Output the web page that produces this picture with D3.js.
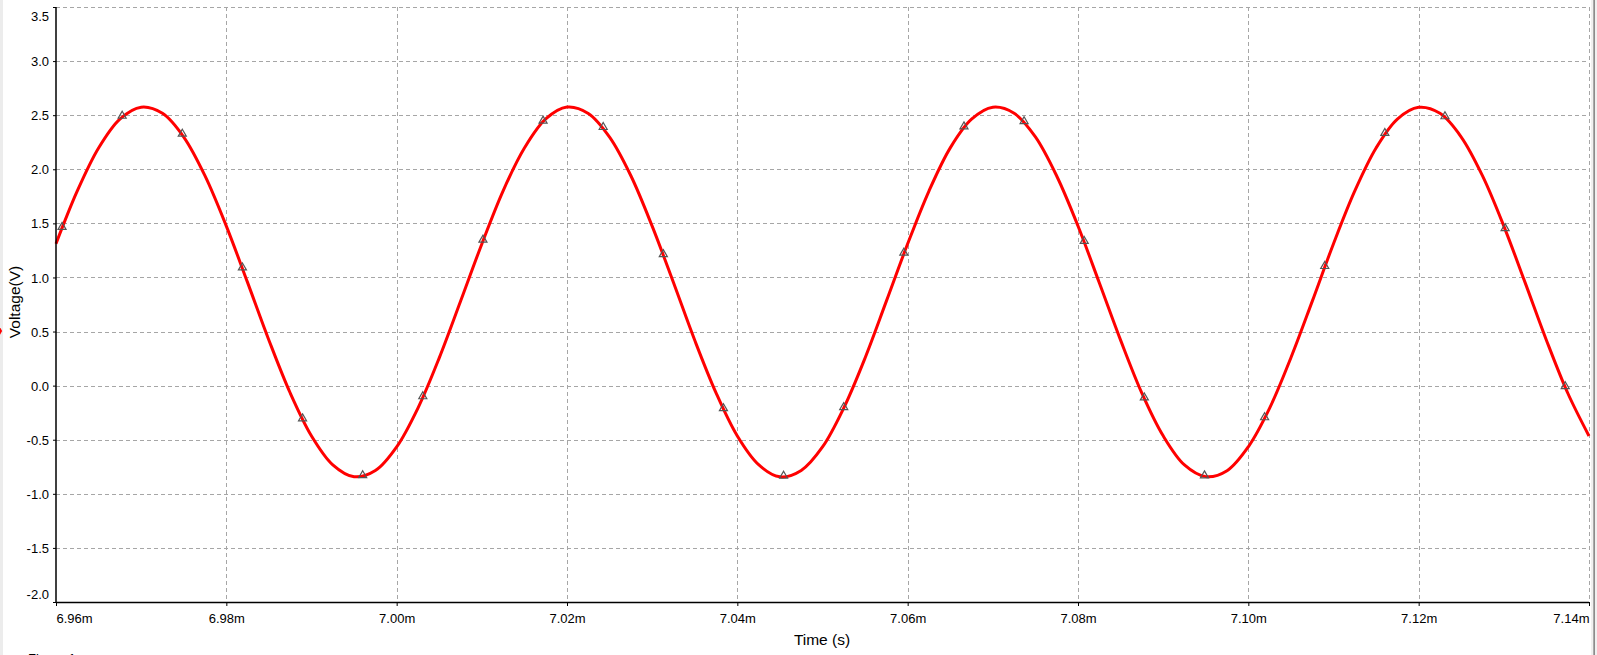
<!DOCTYPE html>
<html>
<head>
<meta charset="utf-8">
<script src="https://cdn.jsdelivr.net/npm/d3@7"></script>
<style>
  html, body { margin: 0; padding: 0; background: #ffffff; }
  svg { display: block; }
  text { font-family: "Liberation Sans", Arial, sans-serif; fill: #000; }
</style>
</head>
<body>
<svg id="chart" width="1597" height="655"></svg>
<script>
// ---- data ----
const times = [6.9600,6.9625,6.9650,6.9675,6.9700,6.9725,6.9750,6.9775,6.9800,6.9825,6.9850,6.9875,6.9900,6.9925,6.9950,6.9975,
  7.0000,7.0025,7.0050,7.0075,7.0100,7.0125,7.0150,7.0175,7.0200,7.0225,7.0250,7.0275,7.0300,7.0325,7.0350,7.0375,
  7.0400,7.0425,7.0450,7.0475,7.0500,7.0525,7.0550,7.0575,7.0600,7.0625,7.0650,7.0675,7.0700,7.0725,7.0750,7.0775,
  7.0800,7.0825,7.0850,7.0875,7.0900,7.0925,7.0950,7.0975,7.1000,7.1025,7.1050,7.1075,7.1100,7.1125,7.1150,7.1175,
  7.1200,7.1225,7.1250,7.1275,7.1300,7.1325,7.1350,7.1375,7.1400];
const voltages = [1.312,1.800,2.197,2.464,2.574,2.517,2.298,1.939,1.475,0.952,0.420,-0.068,-0.465,-0.732,-0.842,-0.785,-0.566,-0.207,0.257,0.780,
  1.310,1.801,2.196,2.465,2.575,2.516,2.297,1.940,1.474,0.953,0.419,-0.067,-0.466,-0.731,-0.843,-0.784,-0.567,-0.206,0.256,0.781,
  1.311,1.799,2.198,2.463,2.574,2.518,2.299,1.938,1.476,0.951,0.421,-0.069,-0.464,-0.733,-0.841,-0.786,-0.565,-0.208,0.258,0.779,
  1.312,1.800,2.197,2.464,2.573,2.517,2.298,1.939,1.475,0.952,0.420,-0.068,-0.465];

const markerTimes = [6.96071,6.96777,6.97483,6.98189,6.98895,6.99601,7.00307,7.01013,7.01719,7.02425,7.03131,7.03837,7.04543,
  7.05249,7.05955,7.06661,7.07367,7.08073,7.08779,7.09485,7.10191,7.10897,7.11603,7.12309,7.13015,7.13721];
const markerVolts = [1.457,2.484,2.318,1.082,-0.313,-0.839,-0.109,1.339,2.439,2.380,1.205,-0.219,-0.844,
  -0.209,1.218,2.386,2.434,1.327,-0.120,-0.840,-0.303,1.095,2.325,2.479,1.445,-0.016];

const xTicks = [6.96,6.98,7.00,7.02,7.04,7.06,7.08,7.10,7.12,7.14];
const xTickLabels = ["6.96m","6.98m","7.00m","7.02m","7.04m","7.06m","7.08m","7.10m","7.12m","7.14m"];
const yTicks = [-2.0,-1.5,-1.0,-0.5,0.0,0.5,1.0,1.5,2.0,2.5,3.0,3.5];
const yTickLabels = ["-2.0","-1.5","-1.0","-0.5","0.0","0.5","1.0","1.5","2.0","2.5","3.0","3.5"];
const xTitle = "Time (s)";
const yTitle = "Voltage(V)";
const footer = "Figure 1";

// ---- layout ----
const L = 56, R = 1589, T = 7, B = 602;
const svg = d3.select("#chart");
const x = d3.scaleLinear().domain([6.96, 7.14]).range([L, R]);
const y = d3.scaleLinear().domain([-2.0, 3.5]).range([B, T]);

svg.append("rect").attr("width", 1597).attr("height", 655).attr("fill", "#ffffff");

// gridlines
const grid = svg.append("g").attr("stroke", "#a6a6a6").attr("stroke-width", 1)
  .attr("stroke-dasharray", "4,3").attr("fill", "none");
grid.selectAll("line.h").data(yTicks.filter(v => v > -2.0)).join("line")
  .attr("x1", L).attr("x2", R)
  .attr("y1", d => Math.round(y(d)) + 0.5).attr("y2", d => Math.round(y(d)) + 0.5);
grid.selectAll("line.v").data(xTicks.filter(v => v > 6.96)).join("line")
  .attr("y1", T).attr("y2", B)
  .attr("x1", d => Math.round(x(d)) + 0.5).attr("x2", d => Math.round(x(d)) + 0.5);

// curve
const line = d3.line().x((d, i) => x(times[i])).y(d => y(d)).curve(d3.curveCatmullRom.alpha(0.5));
svg.append("path").datum(voltages).attr("d", line)
  .attr("fill", "none").attr("stroke", "#ff0000").attr("stroke-width", 3)
  .attr("stroke-linejoin", "round");

// markers
const sym = d3.symbol().type(d3.symbolTriangle).size(28);
svg.append("g").selectAll("path").data(markerVolts).join("path")
  .attr("d", sym)
  .attr("transform", (d, i) => `translate(${x(markerTimes[i])},${y(d) - 1})`)
  .attr("fill", "none").attr("stroke", "#555555").attr("stroke-width", 1.2);

// axes
const xAxis = d3.axisBottom(x).tickValues(xTicks).tickSize(4).tickFormat((d, i) => xTickLabels[i]);
const gx = svg.append("g").attr("transform", `translate(0,${B})`).call(xAxis);
gx.select(".domain").attr("stroke", "#000").attr("stroke-width", 1.5).attr("d", `M${L},0.5H${R}`);
gx.selectAll(".tick line").attr("stroke", "#000");
gx.selectAll(".tick text").attr("font-size", 13).attr("dy", null).attr("y", 21)
  .attr("font-family", '"Liberation Sans", Arial, sans-serif')
  .attr("text-anchor", (d, i) => i === 0 ? "start" : (i === xTicks.length - 1 ? "end" : "middle"));

const yAxis = d3.axisLeft(y).tickValues(yTicks).tickSize(3).tickFormat((d, i) => yTickLabels[i]);
const gy = svg.append("g").attr("transform", `translate(${L},0)`).call(yAxis);
gy.select(".domain").attr("stroke", "#000").attr("stroke-width", 1.5).attr("d", `M0,${T}V${B}`);
gy.selectAll(".tick line").attr("stroke", "#000");
gy.selectAll(".tick text").attr("font-size", 13).attr("x", -7)
  .attr("font-family", '"Liberation Sans", Arial, sans-serif')
  .attr("dy", (d) => d === 3.5 ? "1.0em" : (d === -2.0 ? "-0.25em" : "0.35em"));

// titles
svg.append("text").attr("x", 822).attr("y", 645).attr("text-anchor", "middle")
  .attr("font-size", 15.5).text(xTitle);
svg.append("text").attr("transform", "translate(19.5,302) rotate(-90)").attr("text-anchor", "middle")
  .attr("font-size", 15.5).text(yTitle);
svg.append("text").attr("x", 28).attr("y", 663).attr("font-size", 13).text(footer);

// frame edges
svg.append("rect").attr("x", 0).attr("y", 0).attr("width", 3).attr("height", 655).attr("fill", "#ececec");
svg.append("path").attr("d", d3.symbol().type(d3.symbolDiamond).size(60)())
  .attr("transform", "translate(-2,331)").attr("fill", "#ff0000");
svg.append("rect").attr("x", 1591).attr("y", 0).attr("width", 6).attr("height", 655).attr("fill", "#f0f0f0");
svg.append("rect").attr("x", 1593.3).attr("y", 0).attr("width", 1.7).attr("height", 655).attr("fill", "#8c8c8c");
</script>
</body>
</html>
